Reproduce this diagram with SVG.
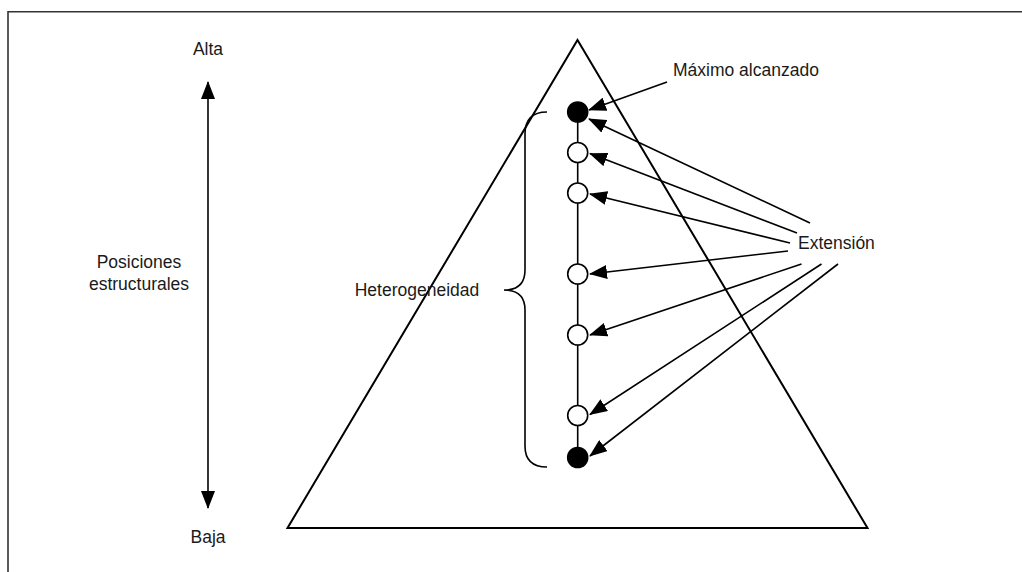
<svg xmlns="http://www.w3.org/2000/svg" width="1022" height="572" viewBox="0 0 1022 572">
<style>
text{font-family:"Liberation Sans",Arial,sans-serif;font-size:17.5px;fill:#1a1a1a}
.ln{stroke:#000;stroke-width:1.6;fill:none}
.arr{stroke:#000;stroke-width:1.6;fill:none;marker-end:url(#ah)}
.open{fill:#fff;stroke:#000;stroke-width:1.6}
.full{fill:#000;stroke:#000;stroke-width:1.6}
</style>
<defs>
<marker id="ah" markerUnits="userSpaceOnUse" markerWidth="18" markerHeight="14" viewBox="0 0 18 14" refX="17" refY="7" orient="auto-start-reverse">
<path d="M0,0 L18,7 L0,14 Z" fill="#000"/>
</marker>
</defs>
<rect width="1022" height="572" fill="#fff"/>
<path d="M8,1000 L8,11.7 L1100,11.7" stroke="#333" stroke-width="1.6" fill="none"/>
<g id="triangle"><path d="M577.5,40 L867.5,528 L287.5,528 Z" fill="none" stroke="#000" stroke-width="2"/></g>
<g id="axis">
<line x1="208" y1="82" x2="208" y2="508" class="arr" marker-start="url(#ah)"/>
<text x="208" y="55" text-anchor="middle">Alta</text>
<text x="208" y="543" text-anchor="middle">Baja</text>
<text x="139" y="268" text-anchor="middle">Posiciones</text>
<text x="139" y="290" text-anchor="middle">estructurales</text>
</g>
<g id="brace">
<path class="ln" d="M547,112 Q525,112 525,134 L525,270 Q525,290 504,290 Q525,290 525,310 L525,446 Q525,467 547,467"/>
<text x="417" y="296" text-anchor="middle">Heterogeneidad</text>
</g>
<g id="chain"><line x1="577.7" y1="112" x2="577.7" y2="457" class="ln"/></g>
<g id="n1"><circle cx="577.7" cy="112" r="10" class="full"/></g>
<g id="n2"><circle cx="577.7" cy="152.5" r="10" class="open"/></g>
<g id="n3"><circle cx="577.7" cy="193" r="10" class="open"/></g>
<g id="n4"><circle cx="577.7" cy="274" r="10" class="open"/></g>
<g id="n5"><circle cx="577.7" cy="335" r="10" class="open"/></g>
<g id="n6"><circle cx="577.7" cy="415.5" r="10" class="open"/></g>
<g id="n7"><circle cx="577.7" cy="457.5" r="10" class="full"/></g>
<g id="lbl-max"><text x="673" y="75.5">Máximo alcanzado</text></g>
<g id="lbl-ext"><text x="798" y="249">Extensión</text></g>
<g id="connectors">
<line x1="667" y1="82" x2="589" y2="110" class="arr"/>
<line x1="810" y1="223" x2="589" y2="119" class="arr"/>
<line x1="797" y1="233" x2="590" y2="153.5" class="arr"/>
<line x1="790" y1="243" x2="590" y2="194" class="arr"/>
<line x1="788" y1="251" x2="590" y2="274" class="arr"/>
<line x1="801.5" y1="264" x2="590" y2="335" class="arr"/>
<line x1="821.5" y1="264" x2="590" y2="414.5" class="arr"/>
<line x1="838" y1="264" x2="590" y2="456" class="arr"/>
</g>
</svg>
